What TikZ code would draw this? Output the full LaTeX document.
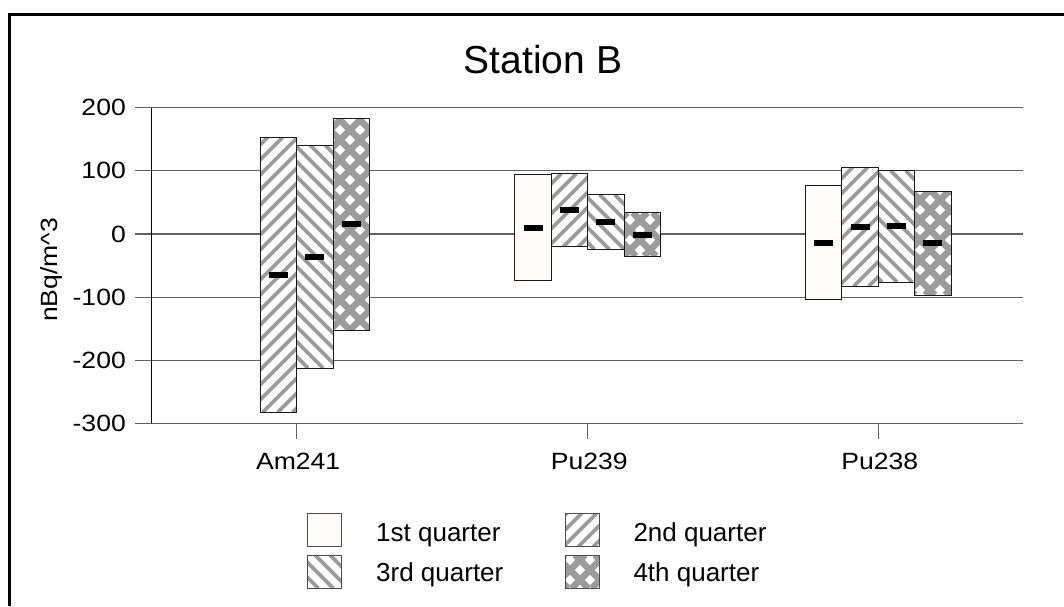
\documentclass[tikz,border=0pt]{standalone}
\usepackage{fontspec}
\setmainfont{Liberation Sans}
\definecolor{qonefill}{RGB}{253,252,250}
\definecolor{stripegray}{RGB}{155,155,155}
\newcommand{\fillplain}[4]{\fill[qonefill] (#1,#2) rectangle (#3,#4);}
\newcommand{\fillup}[4]{%
  \begin{scope}
    \clip (#1,#2) rectangle (#3,#4);
    \fill[white] (#1,#2) rectangle (#3,#4);
    \pgfmathtruncatemacro\kmin{floor((#1+#2)/15)-1}%
    \pgfmathtruncatemacro\kmax{ceil((#3+#4)/15)+1}%
    \foreach \k in {\kmin,...,\kmax}{
      \draw[stripeline] ({\k*15-#2},#2) -- ({\k*15-#4},#4);
    }
  \end{scope}}
\newcommand{\filldown}[4]{%
  \begin{scope}
    \clip (#1,#2) rectangle (#3,#4);
    \fill[white] (#1,#2) rectangle (#3,#4);
    \pgfmathtruncatemacro\kmin{floor((#1-#4)/15)-1}%
    \pgfmathtruncatemacro\kmax{ceil((#3-#2)/15)+1}%
    \foreach \k in {\kmin,...,\kmax}{
      \draw[stripeline] ({\k*15+#2},#2) -- ({\k*15+#4},#4);
    }
  \end{scope}}
\newcommand{\fillcross}[4]{%
  \begin{scope}
    \clip (#1,#2) rectangle (#3,#4);
    \fill[white] (#1,#2) rectangle (#3,#4);
    \pgfmathtruncatemacro\kmin{floor((#1+#2)/20)-1}%
    \pgfmathtruncatemacro\kmax{ceil((#3+#4)/20)+1}%
    \foreach \k in {\kmin,...,\kmax}{
      \draw[crossline] ({\k*20-#2},#2) -- ({\k*20-#4},#4);
    }
    \pgfmathtruncatemacro\kmin{floor((#1-#4)/20)-1}%
    \pgfmathtruncatemacro\kmax{ceil((#3-#2)/20)+1}%
    \foreach \k in {\kmin,...,\kmax}{
      \draw[crossline] ({\k*20+#2},#2) -- ({\k*20+#4},#4);
    }
  \end{scope}}
% type, centre x, top, bottom, mean
\newcommand{\qbar}[5]{%
  \pgfmathsetmacro\xa{#2-18.2}%
  \pgfmathsetmacro\xb{#2+18.2}%
  \csname fill#1\endcsname{\xa}{#3}{\xb}{#4}%
  \draw[barline] (\xa,#3) rectangle (\xb,#4);
  \fill[black] (#2-9.5,#5-3) rectangle (#2+9.5,#5+3);
}
\newcommand{\legbox}[5]{%
  \csname fill#1\endcsname{#2}{#3}{#4}{#5}%
  \draw[legline] (#2,#3) rectangle (#4,#5);
}
\begin{document}
\begin{tikzpicture}[x=1pt,y=-1pt,
  lbl/.style={inner sep=0pt, font=\fontsize{23.5}{27}\selectfont},
  leg/.style={inner sep=0pt, font=\fontsize{26}{30}\selectfont, anchor=base west},
  gridline/.style={black!62, line width=1.2pt},
  barline/.style={black!90, line width=0.95pt},
  legline/.style={black!70, line width=1pt},
  stripeline/.style={stripegray, line width=3.7pt},
  crossline/.style={stripegray, line width=6.5pt}
]
\useasboundingbox (0,0) rectangle (1064,606);
\fill[white] (0,0) rectangle (1064,606);
% frame
\draw[line width=3pt] (9.3,606) -- (9.3,14.7) -- (1064,14.7);
% title
\node[inner sep=0pt, font=\fontsize{39}{45}\selectfont] (title) at (543,60) {Station B};
% grid and y labels
\foreach \y/\t/\n in {107.7/200/a,170.7/100/b,234/0/c,297.3/-100/d,360.3/-200/e,423.3/-300/f} {
  \draw[gridline] (135,\y) -- (1023,\y);
  \node[lbl, anchor=east] (ytick\n) at (126,\y) {\scalebox{1.13}[1]{\t}};
}
\draw[black, line width=1.2pt] (151.7,107.7) -- (151.7,423.3);
% category ticks and labels
\foreach \cx/\name/\n in {296.7/Am241/a,587.7/Pu239/b,878.3/Pu238/c} {
  \draw[gridline] (\cx,423.3) -- (\cx,438.5);
  \node[lbl] (cat\n) at (\cx+1.5,461.7) {\scalebox{1.13}[1]{\name}};
}
\node[lbl, rotate=90] (ylab) at (51,270) {\scalebox{1.13}[1]{nBq/m\textasciicircum 3}};
% bars: Am241
\qbar{up}{278.5}{137.3}{412.3}{275}
\qbar{down}{314.9}{145.3}{368}{256.7}
\qbar{cross}{351.3}{118}{330}{223.7}
% Pu239
\qbar{plain}{533.1}{174.7}{280}{227.7}
\qbar{up}{569.5}{173.7}{246.7}{210}
\qbar{down}{605.9}{194.7}{249.3}{222}
\qbar{cross}{642.3}{212.7}{256}{234.7}
% Pu238
\qbar{plain}{823.7}{185.7}{299}{243}
\qbar{up}{860.1}{167.3}{286.3}{227}
\qbar{down}{896.5}{170.7}{282}{226}
\qbar{cross}{932.9}{191.3}{295}{243}
% legend
\legbox{plain}{307.3}{513.3}{341.7}{546.7}
\legbox{down}{307.3}{555}{341.7}{588.3}
\legbox{up}{565.7}{513.3}{599.3}{546.7}
\legbox{cross}{565.7}{555}{599.3}{588.3}
\node[leg] (legA) at (376,541) {1st quarter};
\node[leg] (legC) at (376,581.7) {3rd quarter};
\node[leg] (legB) at (633.3,541) {2nd quarter};
\node[leg] (legD) at (633.3,581.7) {4th quarter};
\end{tikzpicture}
\end{document}
